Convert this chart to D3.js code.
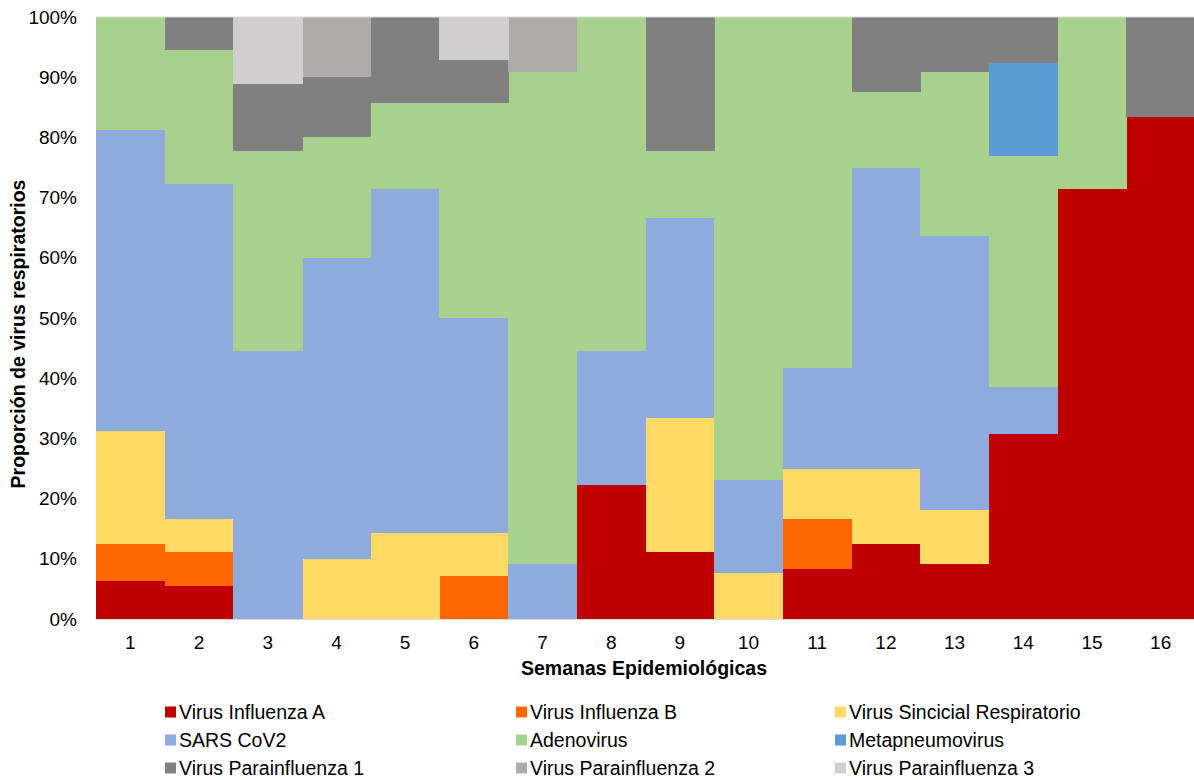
<!DOCTYPE html>
<html>
<head>
<meta charset="utf-8">
<script src="https://cdn.jsdelivr.net/npm/d3@7/dist/d3.min.js"></script>
<style>
  html, body { margin: 0; padding: 0; background: #fff; }
  svg { display: block; font-family: "Liberation Sans", Arial, sans-serif; }
</style>
</head>
<body>
<svg id="chart" width="1194" height="780"></svg>
<script>
// Semanas epidemiológicas
const weeks = ["1","2","3","4","5","6","7","8","9","10","11","12","13","14","15","16"];

// Proporción (%) de cada virus por semana
const influenzaA   = [6.25, 5.56, 0, 0, 0, 0, 0, 22.22, 11.11, 0, 8.33, 12.5, 9.09, 30.77, 71.43, 83.33];
const influenzaB   = [6.25, 5.56, 0, 0, 0, 7.14, 0, 0, 0, 0, 8.33, 0, 0, 0, 0, 0];
const sincicial    = [18.75, 5.56, 0, 10, 14.29, 7.14, 0, 0, 22.22, 7.69, 8.33, 12.5, 9.09, 0, 0, 0];
const sarsCov2     = [50, 55.56, 44.44, 50, 57.14, 35.71, 9.09, 22.22, 33.33, 15.38, 16.67, 50, 45.45, 7.69, 0, 0];
const adenovirus   = [18.75, 22.22, 33.33, 20, 14.29, 35.71, 81.82, 55.56, 11.11, 76.92, 58.33, 12.5, 27.27, 38.46, 28.57, 0];
const metapneumo   = [0, 0, 0, 0, 0, 0, 0, 0, 0, 0, 0, 0, 0, 15.38, 0, 0];
const parainf1     = [0, 5.56, 11.11, 10, 14.29, 7.14, 0, 0, 22.22, 0, 0, 12.5, 9.09, 7.69, 0, 16.67];
const parainf2     = [0, 0, 0, 10, 0, 0, 9.09, 0, 0, 0, 0, 0, 0, 0, 0, 0];
const parainf3     = [0, 0, 11.11, 0, 0, 7.14, 0, 0, 0, 0, 0, 0, 0, 0, 0, 0];

const seriesNames = [
  "Virus Influenza A", "Virus Influenza B", "Virus Sincicial Respiratorio",
  "SARS CoV2", "Adenovirus", "Metapneumovirus",
  "Virus Parainfluenza 1", "Virus Parainfluenza 2", "Virus Parainfluenza 3"
];
const seriesValues = [influenzaA, influenzaB, sincicial, sarsCov2, adenovirus, metapneumo, parainf1, parainf2, parainf3];
const seriesColors = ["#C00000", "#FF6600", "#FFD966", "#8FAADC", "#A9D18E", "#5B9BD5", "#808080", "#AEAAAA", "#D0CECE"];

const yTicks = [0, 10, 20, 30, 40, 50, 60, 70, 80, 90, 100];

// Rows for the stack layout
const rows = weeks.map((w, i) => {
  const r = { week: w };
  seriesNames.forEach((n, k) => { r[n] = seriesValues[k][i]; });
  return r;
});

const svg = d3.select("#chart");
const plot = { left: 96, right: 1195, top: 17, bottom: 619 };

const x = d3.scaleBand().domain(weeks).range([plot.left, plot.right]).paddingInner(0).paddingOuter(0);
const y = d3.scaleLinear().domain([0, 100]).range([plot.bottom, plot.top]);
const color = d3.scaleOrdinal().domain(seriesNames).range(seriesColors);

const stacked = d3.stack().keys(seriesNames)(rows);

// Stacked columns
const g = svg.append("g");
g.selectAll("g.layer")
  .data(stacked)
  .join("g")
  .attr("class", "layer")
  .attr("fill", d => color(d.key))
  .selectAll("rect")
  .data(d => d.filter(s => s[1] - s[0] > 0))
  .join("rect")
  .attr("x", d => x(d.data.week))
  .attr("width", x.bandwidth() + 0.5)
  .attr("y", d => y(d[1]))
  .attr("height", d => y(d[0]) - y(d[1]))
  .attr("shape-rendering", "crispEdges");

// Top and baseline rules
svg.append("line")
  .attr("x1", plot.left).attr("x2", plot.right)
  .attr("y1", y(100)).attr("y2", y(100))
  .attr("stroke", "#d9d9d9").attr("stroke-width", 1);
svg.append("line")
  .attr("x1", plot.left).attr("x2", plot.right)
  .attr("y1", y(0) + 0.5).attr("y2", y(0) + 0.5)
  .attr("stroke", "#d9d9d9").attr("stroke-width", 1);

// Y axis
const yAxis = d3.axisLeft(y).tickValues(yTicks).tickFormat(d => d + "%").tickSize(0).tickPadding(19);
const yg = svg.append("g").attr("transform", `translate(${plot.left},0)`).call(yAxis);
yg.select(".domain").remove();
yg.selectAll("text").attr("font-size", 19).attr("fill", "#000")
  .attr("font-family", "'Liberation Sans', Arial, sans-serif");

// X axis
const xAxis = d3.axisBottom(x).tickSize(0).tickPadding(17);
const xg = svg.append("g").attr("transform", `translate(0,${plot.bottom})`).call(xAxis);
xg.select(".domain").remove();
xg.selectAll("text").attr("font-size", 19).attr("fill", "#000")
  .attr("font-family", "'Liberation Sans', Arial, sans-serif");

// Axis titles
svg.append("text")
  .attr("x", 644)
  .attr("y", 675)
  .attr("text-anchor", "middle")
  .attr("font-size", 19.5).attr("font-weight", "bold")
  .text("Semanas Epidemiológicas");

svg.append("text")
  .attr("transform", "translate(25,334) rotate(-90)")
  .attr("text-anchor", "middle")
  .attr("font-size", 19.5).attr("font-weight", "bold")
  .text("Proporción de virus respiratorios");

// Legend: three columns, three rows
const legendCols = [165, 516, 835];
const legendRows = [712, 740, 768];
const legend = svg.append("g");
seriesNames.forEach((n, i) => {
  const cx = legendCols[i % 3];
  const cy = legendRows[Math.floor(i / 3)];
  const item = legend.append("g").attr("transform", `translate(${cx},${cy})`);
  item.append("rect").attr("x", 0).attr("y", -5.5).attr("width", 11).attr("height", 11)
    .attr("fill", color(n));
  item.append("text").attr("x", 14).attr("y", 0).attr("dy", "0.35em")
    .attr("font-size", 19.5).attr("fill", "#000").text(n);
});
</script>
</body>
</html>
